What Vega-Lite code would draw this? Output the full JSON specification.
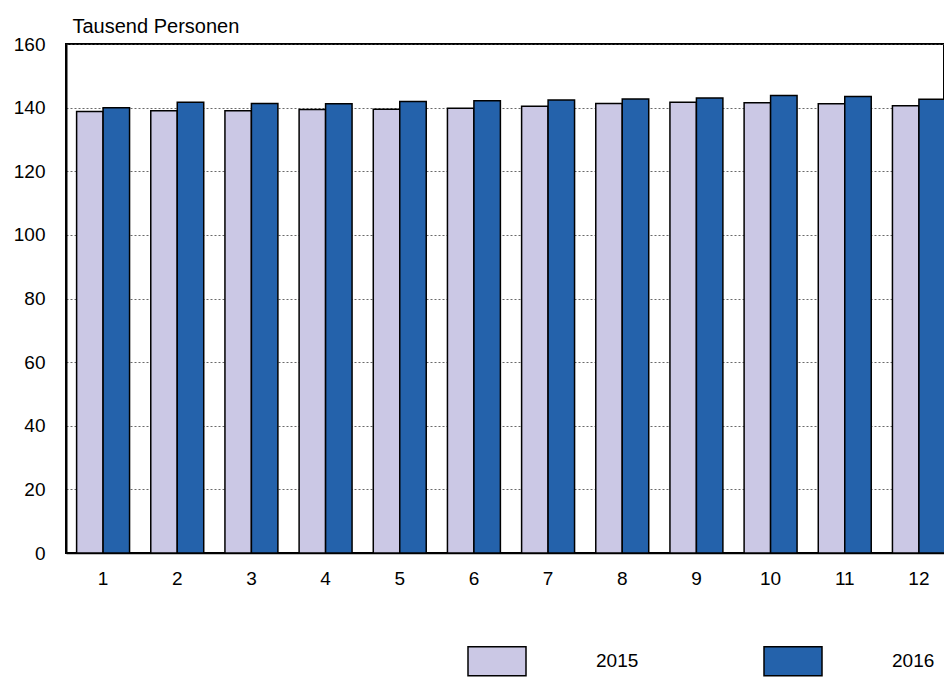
{
  "$schema": "https://vega.github.io/schema/vega-lite/v6.json",
  "autosize": {"type": "none"},
  "width": 878,
  "height": 509,
  "padding": {"left": 66, "top": 44, "right": 0, "bottom": 126},
  "background": "white",
  "config": {
    "font": "Liberation Sans",
    "view": {"stroke": "black", "strokeWidth": 2},
    "axis": {"labelFont": "Liberation Sans", "labelFontSize": 19, "labelColor": "black", "ticks": false}
  },
  "data": {
    "values": [
      {"Monat": 1, "Jahr": "2015", "Wert": 138.8}, {"Monat": 1, "Jahr": "2016", "Wert": 140.0},
      {"Monat": 2, "Jahr": "2015", "Wert": 139.0}, {"Monat": 2, "Jahr": "2016", "Wert": 141.7},
      {"Monat": 3, "Jahr": "2015", "Wert": 139.0}, {"Monat": 3, "Jahr": "2016", "Wert": 141.3},
      {"Monat": 4, "Jahr": "2015", "Wert": 139.4}, {"Monat": 4, "Jahr": "2016", "Wert": 141.2},
      {"Monat": 5, "Jahr": "2015", "Wert": 139.5}, {"Monat": 5, "Jahr": "2016", "Wert": 141.9},
      {"Monat": 6, "Jahr": "2015", "Wert": 139.8}, {"Monat": 6, "Jahr": "2016", "Wert": 142.2},
      {"Monat": 7, "Jahr": "2015", "Wert": 140.4}, {"Monat": 7, "Jahr": "2016", "Wert": 142.4},
      {"Monat": 8, "Jahr": "2015", "Wert": 141.3}, {"Monat": 8, "Jahr": "2016", "Wert": 142.7},
      {"Monat": 9, "Jahr": "2015", "Wert": 141.7}, {"Monat": 9, "Jahr": "2016", "Wert": 143.0},
      {"Monat": 10, "Jahr": "2015", "Wert": 141.5}, {"Monat": 10, "Jahr": "2016", "Wert": 143.8},
      {"Monat": 11, "Jahr": "2015", "Wert": 141.2}, {"Monat": 11, "Jahr": "2016", "Wert": 143.5},
      {"Monat": 12, "Jahr": "2015", "Wert": 140.6}, {"Monat": 12, "Jahr": "2016", "Wert": 142.6}
    ]
  },
  "mark": {"type": "bar", "stroke": "black", "strokeWidth": 1.5},
  "encoding": {
    "x": {
      "field": "Monat", "type": "ordinal",
      "scale": {"range": [0, 890], "paddingInner": 0.286, "paddingOuter": 0.143},
      "axis": {"title": null, "labelAngle": 0, "labelPadding": 16, "domainColor": "black", "domainWidth": 1.5, "grid": false}
    },
    "xOffset": {"field": "Jahr", "type": "nominal", "scale": {"paddingInner": 0, "paddingOuter": 0}},
    "y": {
      "field": "Wert", "type": "quantitative",
      "scale": {"domain": [0, 160], "nice": false},
      "axis": {
        "values": [0, 20, 40, 60, 80, 100, 120, 140, 160],
        "title": "Tausend Personen", "titleAngle": 0, "titleAlign": "left", "titleBaseline": "alphabetic",
        "titleX": 6, "titleY": -12, "titleFont": "Liberation Sans", "titleFontSize": 20, "titleFontWeight": "normal", "titleColor": "black",
        "labelPadding": 21, "domainColor": "black", "domainWidth": 2,
        "grid": true, "gridColor": "#444", "gridWidth": 0.8, "gridDash": [2, 2]
      }
    },
    "color": {
      "field": "Jahr", "type": "nominal",
      "scale": {"domain": ["2015", "2016"], "range": ["#CBC8E5", "#2462AB"]},
      "legend": {
        "title": null, "orient": "none", "direction": "horizontal",
        "legendX": 401, "legendY": 587,
        "symbolType": "M-1,-0.5H1V0.5H-1Z", "symbolSize": 3364,
        "symbolStrokeColor": "black", "symbolStrokeWidth": 1.5, "symbolOpacity": 1,
        "labelOffset": 69, "labelFont": "Liberation Sans", "labelFontSize": 19, "labelColor": "black",
        "columnPadding": 122
      }
    }
  }
}
